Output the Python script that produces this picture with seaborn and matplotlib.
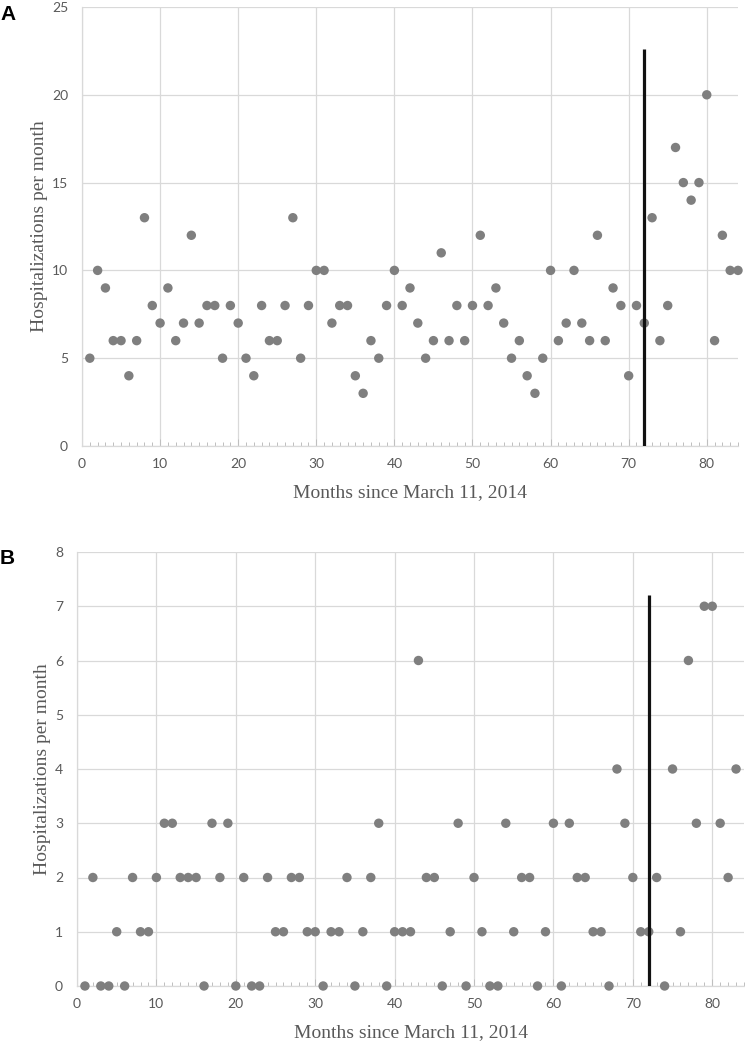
import matplotlib
matplotlib.use("Agg")
import matplotlib.pyplot as plt
import seaborn as sns
import pandas as pd
import numpy as np
from matplotlib.ticker import MultipleLocator

# ---- data ----
months_a = list(range(1, 85))
hosp_a = [5, 10, 9, 6, 6, 4, 6, 13, 8, 7, 9, 6, 7, 12, 7, 8, 8, 5, 8, 7,
          5, 4, 8, 6, 6, 8, 13, 5, 8, 10, 10, 7, 8, 8, 4, 3, 6, 5, 8, 10,
          8, 9, 7, 5, 6, 11, 6, 8, 6, 8, 12, 8, 9, 7, 5, 6, 4, 3, 5, 10,
          6, 7, 10, 7, 6, 12, 6, 9, 8, 4, 8, 7, 13, 6, 8, 17, 15, 14, 15, 20,
          6, 12, 10, 10]

months_b = list(range(1, 84))
hosp_b = [0, 2, 0, 0, 1, 0, 2, 1, 1, 2, 3, 3, 2, 2, 2, 0, 3, 2, 3, 0,
          2, 0, 0, 2, 1, 1, 2, 2, 1, 1, 0, 1, 1, 2, 0, 1, 2, 3, 0, 1,
          1, 1, 6, 2, 2, 0, 1, 3, 0, 2, 1, 0, 0, 3, 1, 2, 2, 0, 1, 3,
          0, 3, 2, 2, 1, 1, 0, 4, 3, 2, 1, 1, 2, 0, 4, 1, 6, 3, 7, 7,
          3, 2, 4]

intervention_month = 72
line_top_a = 22.6
line_top_b = 7.2

x_label = "Months since March 11, 2014"
y_label = "Hospitalizations per month"
panel_letters = ["A", "B"]

df_a = pd.DataFrame({"month": months_a, "hosp": hosp_a})
df_b = pd.DataFrame({"month": months_b, "hosp": hosp_b})

sns.set_theme(style="white")
plt.rcParams["font.family"] = ["Lato", "DejaVu Sans"]

fig = plt.figure(figsize=(7.45, 10.5), dpi=100)
ax_a = fig.add_axes([82/745, 1-446/1050, (738-82)/745, (446-7)/1050])
ax_b = fig.add_axes([77/745, 1-986/1050, (744-77)/745, (986-552)/1050])

grid_c = "#d9d9d9"
tick_c = "#595959"
dot_c = "#7f7f7f"

def style(ax, df, ymax, ystep, line_top, letter_xy, letter, xlabelpad):
    sns.scatterplot(data=df, x="month", y="hosp", ax=ax, s=46, color=dot_c,
                    edgecolor="none", linewidth=0, clip_on=False, zorder=3)
    ax.plot([intervention_month, intervention_month], [0, line_top],
            color="#111111", lw=2.3, zorder=4, solid_capstyle="butt")
    ax.set_xlim(0, 84)
    ax.set_ylim(0, ymax)
    ax.xaxis.set_major_locator(MultipleLocator(10))
    ax.xaxis.set_minor_locator(MultipleLocator(1))
    ax.yaxis.set_major_locator(MultipleLocator(ystep))
    ax.grid(True, which="major", color=grid_c, lw=0.9, zorder=0)
    ax.set_axisbelow(True)
    for s in ["top", "right"]:
        ax.spines[s].set_visible(False)
    for s in ["left", "bottom"]:
        ax.spines[s].set_color(grid_c)
        ax.spines[s].set_linewidth(0.9)
    ax.tick_params(axis="x", which="minor", direction="in", length=3,
                   color="#bfbfbf", width=0.7, bottom=True)
    ax.tick_params(axis="x", which="major", direction="in", length=5,
                   color="#bfbfbf", width=0.7, bottom=True, pad=9,
                   labelsize=10, labelcolor=tick_c)
    ax.tick_params(axis="y", which="major", length=0, pad=10,
                   labelsize=10, labelcolor=tick_c)
    ax.set_xlabel(x_label, family=["Liberation Serif"], fontsize=14,
                  color=tick_c, labelpad=xlabelpad)
    ax.set_ylabel(y_label, family=["Liberation Serif"], fontsize=14,
                  color=tick_c, labelpad=3)
    fig.text(letter_xy[0], letter_xy[1], letter, family=["Liberation Sans"],
             fontsize=15, fontweight="bold", color="black", va="top", ha="left")

style(ax_a, df_a, 25, 5, line_top_a, (0.0, 1-5/1050), panel_letters[0], 10)
style(ax_b, df_b, 8, 1, line_top_b, (0.0, 1-549/1050), panel_letters[1], 10)

fig.savefig("out.png", dpi=100)
